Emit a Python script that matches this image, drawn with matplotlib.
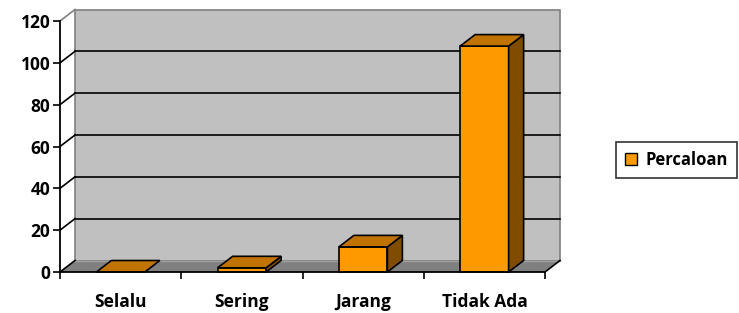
import matplotlib.pyplot as plt
from matplotlib.patches import Polygon, Patch

# data
categories = ["Selalu", "Sering", "Jarang", "Tidak Ada"]
values = [0, 2, 12, 108]
series_name = "Percaloan"
yticks = [0, 20, 40, 60, 80, 100, 120]

plt.rcParams['font.family'] = ['Open Sans', 'DejaVu Sans']
plt.rcParams['font.weight'] = 'bold'

W, H = 739, 313
fig = plt.figure(figsize=(W / 100, H / 100), dpi=100)
# front plot area in pixels: x 60..545, y 21..272
ax = fig.add_axes([60 / W, (H - 272) / H, 485 / W, 251 / H])
ax.set_xlim(0, len(categories))
ax.set_ylim(0, 120)
ax.patch.set_visible(False)

# depth offset (data units)
DX = 15 / (485 / 4)
DY = 11.5 / (251 / 120)
n = len(categories)
wall_c, floor_c, edge_c = "#c0c0c0", "#808080", "#808080"

# back wall
ax.add_patch(Polygon([(DX, DY), (n + DX, DY), (n + DX, 120 + DY), (DX, 120 + DY)],
                     closed=True, fc=wall_c, ec=edge_c, lw=1.2, clip_on=False, zorder=1))
# floor
ax.add_patch(Polygon([(0, 0), (n, 0), (n + DX, DY), (DX, DY)],
                     closed=True, fc=floor_c, ec="none", clip_on=False, zorder=1))
ax.plot([DX, n + DX], [DY, DY], color="#a0a0a0", lw=1, clip_on=False, zorder=1.5)
# left side wall top edge
ax.plot([0, DX], [120, 120 + DY], color=edge_c, lw=1.2, clip_on=False, zorder=1.5)
ax.plot([n, n + DX], [0, DY], color="black", lw=1.2, clip_on=False, zorder=1.5)

# gridlines on back wall + diagonals on the side
for t in yticks[1:-1]:
    ax.plot([DX, n + DX], [t + DY, t + DY], color="black", lw=1.2, clip_on=False, zorder=2)
for t in yticks[:-1]:
    ax.plot([0, DX], [t, t + DY], color="black", lw=1.2, clip_on=False, zorder=2)

# bars
bw = 0.4
front_c, top_c, side_c = "#ff9900", "#c07300", "#7f4c00"
for i, v in enumerate(values):
    x0, x1 = i + 0.5 - bw / 2, i + 0.5 + bw / 2
    kw = dict(closed=True, ec="black", lw=1.2, clip_on=False, zorder=3, joinstyle="miter")
    if v > 0:
        ax.add_patch(Polygon([(x0, 0), (x1, 0), (x1, v), (x0, v)], fc=front_c, **kw))
        ax.add_patch(Polygon([(x1, 0), (x1 + DX, DY), (x1 + DX, v + DY), (x1, v)], fc=side_c, **kw))
    ax.add_patch(Polygon([(x0, v), (x1, v), (x1 + DX, v + DY), (x0 + DX, v + DY)], fc=top_c, **kw))

# axes
for s in ["top", "right"]:
    ax.spines[s].set_visible(False)
for s in ["left", "bottom"]:
    ax.spines[s].set_linewidth(1.3)
    ax.spines[s].set_zorder(4)
ax.set_yticks(yticks)
ax.set_xticks(range(n + 1))
ax.set_xticklabels([])
ax.set_xticks([i + 0.5 for i in range(n)], minor=True)
ax.set_xticklabels(categories, minor=True)
ax.tick_params(axis="x", which="minor", length=0, pad=15, labelsize=12.5)
ax.tick_params(axis="x", which="major", length=5, width=1.2, direction="out")
ax.tick_params(axis="y", length=5, width=1.2, direction="out", labelsize=12.5, pad=2)
for lab in ax.get_yticklabels() + ax.get_xticklabels(minor=True):
    lab.set_fontweight("bold")

leg = fig.legend(handles=[Patch(fc=front_c, ec="black", lw=1)], labels=[series_name],
                 loc="center left", bbox_to_anchor=(616 / W, 1 - 160 / H),
                 frameon=True, fancybox=False, edgecolor="black",
                 prop=dict(weight="bold", size=12), handlelength=0.7, handleheight=0.7,
                 handletextpad=0.5, borderpad=0.55, borderaxespad=0)
leg.get_frame().set_linewidth(1.2)

fig.savefig("out.png", dpi=100)
